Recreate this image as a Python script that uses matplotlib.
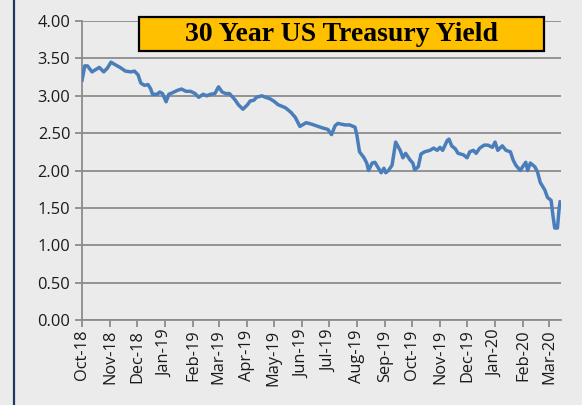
import matplotlib
matplotlib.use("Agg")
import matplotlib.pyplot as plt
import matplotlib.dates as mdates
from matplotlib.patches import Rectangle
from matplotlib.lines import Line2D
import numpy as np

# dates (approx.)
dates = [
    "2018-10-01", "2018-10-04", "2018-10-07", "2018-10-12", "2018-10-16", "2018-10-20",
    "2018-10-25", "2018-10-29", "2018-11-02", "2018-11-06", "2018-11-12", "2018-11-18",
    "2018-11-24", "2018-11-28", "2018-12-02", "2018-12-05", "2018-12-09", "2018-12-13",
    "2018-12-16", "2018-12-18", "2018-12-23", "2018-12-26", "2018-12-29", "2019-01-02",
    "2019-01-05", "2019-01-09", "2019-01-14", "2019-01-19", "2019-01-24", "2019-01-29",
    "2019-02-03", "2019-02-07", "2019-02-12", "2019-02-16", "2019-02-20", "2019-02-25",
    "2019-03-01", "2019-03-05", "2019-03-09", "2019-03-13", "2019-03-19", "2019-03-23",
    "2019-03-28", "2019-04-02", "2019-04-05", "2019-04-09", "2019-04-12", "2019-04-18",
    "2019-04-22", "2019-04-27", "2019-05-01", "2019-05-06", "2019-05-14", "2019-05-20",
    "2019-05-25", "2019-05-30", "2019-06-06", "2019-06-12", "2019-06-19", "2019-06-24",
    "2019-06-30", "2019-07-04", "2019-07-08", "2019-07-11", "2019-07-19", "2019-07-24",
    "2019-07-30", "2019-08-01", "2019-08-04", "2019-08-09", "2019-08-12", "2019-08-14",
    "2019-08-18", "2019-08-21", "2019-08-24", "2019-08-28", "2019-08-31", "2019-09-02",
    "2019-09-05", "2019-09-09", "2019-09-13", "2019-09-18", "2019-09-21", "2019-09-24",
    "2019-09-29", "2019-10-02", "2019-10-04", "2019-10-08", "2019-10-11", "2019-10-15",
    "2019-10-21", "2019-10-25", "2019-10-29", "2019-11-01", "2019-11-04", "2019-11-09",
    "2019-11-11", "2019-11-14", "2019-11-18", "2019-11-21", "2019-11-27", "2019-12-01",
    "2019-12-04", "2019-12-08", "2019-12-11", "2019-12-15", "2019-12-20", "2019-12-24",
    "2019-12-29", "2020-01-01", "2020-01-04", "2020-01-09", "2020-01-13", "2020-01-18",
    "2020-01-21", "2020-01-24", "2020-01-29", "2020-02-01", "2020-02-04", "2020-02-06",
    "2020-02-09", "2020-02-14", "2020-02-17", "2020-02-20", "2020-02-25", "2020-02-28",
    "2020-03-03", "2020-03-05", "2020-03-07", "2020-03-10", "2020-03-12", "2020-03-13",
]
yields = [
    3.21, 3.40, 3.40, 3.32, 3.35, 3.38,
    3.32, 3.37, 3.45, 3.42, 3.38, 3.33,
    3.32, 3.33, 3.28, 3.17, 3.14, 3.15,
    3.09, 3.02, 3.02, 3.05, 3.03, 2.92,
    3.02, 3.04, 3.07, 3.09, 3.06, 3.06,
    3.03, 2.98, 3.02, 3.00, 3.02, 3.03,
    3.12, 3.05, 3.03, 3.03, 2.95, 2.88,
    2.82, 2.88, 2.93, 2.94, 2.98, 3.00,
    2.98, 2.96, 2.93, 2.88, 2.84, 2.78,
    2.71, 2.59, 2.64, 2.62, 2.59, 2.57,
    2.55, 2.48, 2.60, 2.63, 2.61, 2.61,
    2.58, 2.48, 2.25, 2.17, 2.10, 2.00,
    2.10, 2.11, 2.05, 1.97, 2.03, 1.97,
    2.00, 2.07, 2.38, 2.27, 2.17, 2.23,
    2.14, 2.10, 2.01, 2.05, 2.22, 2.25,
    2.27, 2.30, 2.27, 2.31, 2.27, 2.40,
    2.42, 2.33, 2.29, 2.23, 2.21, 2.17,
    2.25, 2.27, 2.23, 2.30, 2.34, 2.34,
    2.31, 2.38, 2.27, 2.33, 2.27, 2.25,
    2.14, 2.07, 2.00, 2.06, 2.11, 2.00,
    2.10, 2.05, 1.98, 1.84, 1.74, 1.64,
    1.60, 1.40, 1.23, 1.23, 1.51, 1.58,
]
title = "30 Year US Treasury Yield"
yticks = [0.0, 0.5, 1.0, 1.5, 2.0, 2.5, 3.0, 3.5, 4.0]

bg = "#ebebeb"
x = np.array(dates, dtype="datetime64[D]")

fig = plt.figure(figsize=(5.82, 4.05), dpi=100, facecolor=bg)
ax = fig.add_axes([0.141, 0.210, 0.823, 0.738])
ax.set_facecolor(bg)

ax.plot(x, yields, color="#4a7ebb", lw=2.5, solid_joinstyle="round", zorder=3)

ax.set_ylim(0, 4)
ax.set_yticks(yticks)
ax.set_yticklabels([f"{v:.2f}" for v in yticks])
ax.set_xlim(np.datetime64("2018-10-01"), np.datetime64("2020-03-14"))
ax.xaxis.set_major_locator(mdates.MonthLocator())
ax.xaxis.set_major_formatter(mdates.DateFormatter("%b-%y"))
ax.grid(axis="y", color="#8c8c8c", lw=1.3)
ax.set_axisbelow(True)

for s in ["top", "right"]:
    ax.spines[s].set_visible(False)
for s in ["left", "bottom"]:
    ax.spines[s].set_color("#8c8c8c")
    ax.spines[s].set_linewidth(1.3)
ax.tick_params(axis="both", color="#8c8c8c", width=1.3, length=5,
               labelsize=11.8, labelcolor="#1a1a1a")
ax.tick_params(axis="x", rotation=90, pad=2)
for lab in ax.get_xticklabels() + ax.get_yticklabels():
    lab.set_fontfamily("Open Sans")

# dark blue strip on the left
fig.add_artist(Line2D([0.024, 0.024], [0, 1], color="#1f3864", lw=1.6,
                      transform=fig.transFigure))

# title box
fig.add_artist(Rectangle((0.2388, 0.874), 0.696, 0.084, transform=fig.transFigure,
                         facecolor="#ffc000", edgecolor="black", lw=1.6, zorder=5))
fig.text(0.587, 0.914, title, ha="center", va="center", fontsize=20,
         fontweight="bold", family="Liberation Serif", zorder=6)

fig.savefig("out.png", dpi=100, facecolor=bg)
